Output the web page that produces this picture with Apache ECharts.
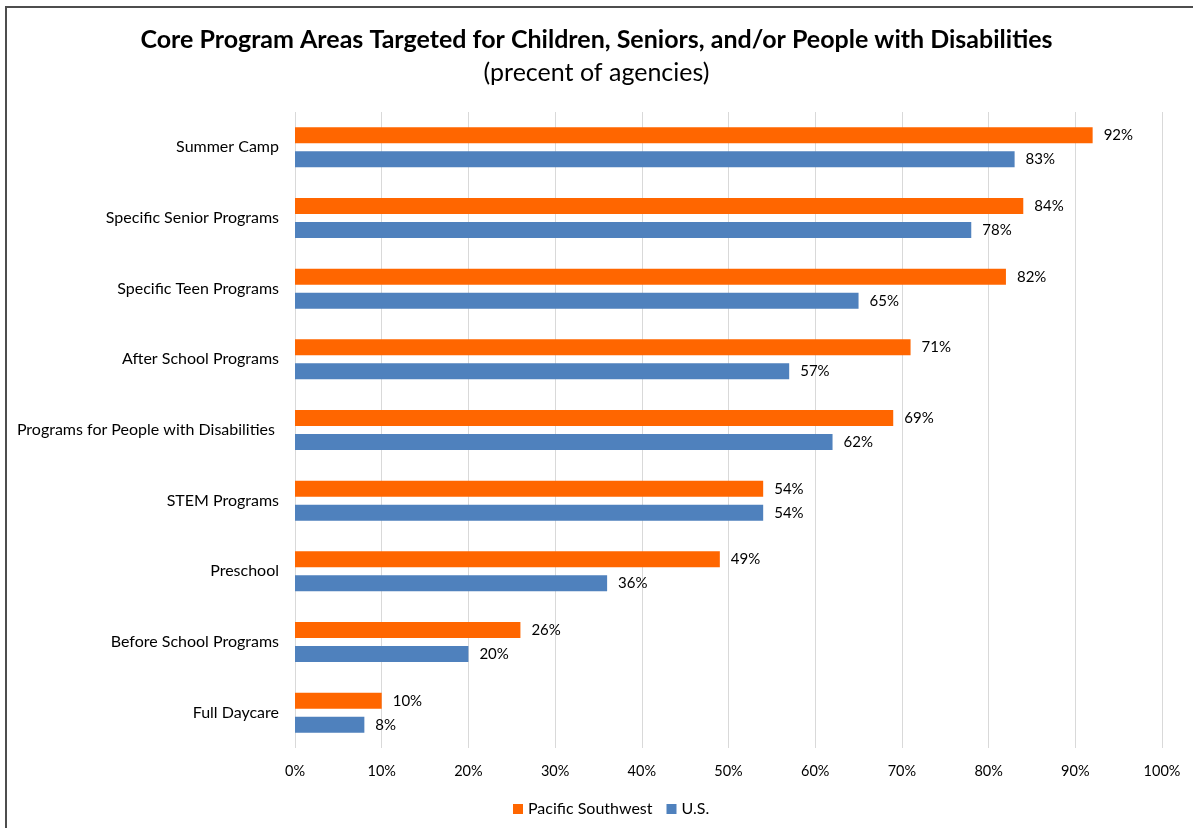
<!DOCTYPE html>
<html>
<head>
<meta charset="utf-8">
<script src="https://cdn.jsdelivr.net/npm/echarts@6/dist/echarts.min.js"></script>
<style>
  html, body { margin: 0; padding: 0; background: #fff; }
  #chart { width: 1193px; height: 828px; }
</style>
</head>
<body>
<div id="chart"></div>
<script>
// Program areas, top to bottom
const categories = [
  'Summer Camp',
  'Specific Senior Programs',
  'Specific Teen Programs',
  'After School Programs',
  'Programs for People with Disabilities ',
  'STEM Programs',
  'Preschool',
  'Before School Programs',
  'Full Daycare'
];
// Percent of agencies
const pacificSouthwest = [92, 84, 82, 71, 69, 54, 49, 26, 10];
const unitedStates = [83, 78, 65, 57, 62, 54, 36, 20, 8];
const seriesNames = ['Pacific Southwest', 'U.S.'];
const titleText = 'Core Program Areas Targeted for Children, Seniors, and/or People with Disabilities';
const subtitleText = '(precent of agencies)';

const FONT = 'Lato, "Open Sans", sans-serif';

const chart = echarts.init(document.getElementById('chart'), null, { renderer: 'canvas' });

const barLabel = {
  show: true,
  position: 'right',
  distance: 11,
  formatter: '{c}%',
  color: '#000',
  fontFamily: FONT,
  fontSize: 15
};

chart.setOption({
  backgroundColor: '#fff',
  animation: false,
  title: {
    text: titleText,
    subtext: subtitleText,
    left: 'center',
    top: 22,
    itemGap: 8,
    textStyle: { fontFamily: FONT, fontSize: 25, fontWeight: 'bold', color: '#000' },
    subtextStyle: { fontFamily: FONT, fontSize: 25, color: '#000' }
  },
  legend: {
    data: seriesNames,
    bottom: 6,
    left: 508,
    itemWidth: 10,
    itemHeight: 10,
    itemGap: 14,
    icon: 'rect',
    textStyle: { fontFamily: FONT, fontSize: 16, color: '#000' }
  },
  grid: { left: 295, right: 31, top: 112, bottom: 80, containLabel: false },
  xAxis: {
    type: 'value',
    min: 0,
    max: 100,
    interval: 10,
    axisLine: { show: false },
    axisTick: { show: false },
    splitLine: { show: true, lineStyle: { color: '#D9D9D9', width: 1 } },
    axisLabel: { formatter: '{value}%', fontFamily: FONT, fontSize: 14.5, color: '#000', margin: 16 }
  },
  yAxis: {
    type: 'category',
    data: categories,
    inverse: true,
    axisLine: { show: false },
    axisTick: { show: false },
    axisLabel: { fontFamily: FONT, fontSize: 16, color: '#000', margin: 16 }
  },
  series: [
    {
      name: seriesNames[0],
      type: 'bar',
      data: pacificSouthwest,
      barWidth: 16,
      barGap: '50%',
      itemStyle: { color: '#FF6600' },
      label: barLabel
    },
    {
      name: seriesNames[1],
      type: 'bar',
      data: unitedStates,
      barWidth: 16,
      barGap: '50%',
      itemStyle: { color: '#4F81BD' },
      label: barLabel
    }
  ],
  graphic: [
    {
      type: 'polyline',
      silent: true,
      shape: { points: [[6, 828], [6, 7], [1193, 7]] },
      style: { stroke: '#4d4d4d', lineWidth: 2, fill: null }
    }
  ]
});
</script>
</body>
</html>
